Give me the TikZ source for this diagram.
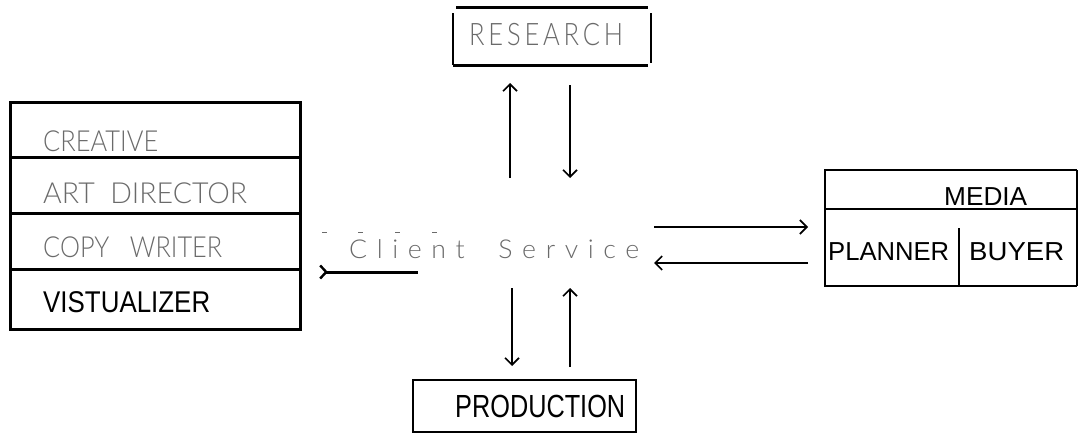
\documentclass[tikz,border=0pt]{standalone}
\usepackage{fontspec}
\usepackage{graphicx}
\setmainfont{Liberation Sans}
\newfontfamily\thinface{Lato Light}
\usetikzlibrary{arrows.meta,calc}
\newcommand{\fitw}[2]{\resizebox{#1}{\height}{#2}}
\definecolor{inkgray}{HTML}{6A6A6A}
\begin{document}
\begin{tikzpicture}[x=1pt,y=-1pt,
  txt/.style={inner sep=0pt, anchor=base west},
  soft/.style={text=inkgray},
  heavy/.style={line width=3pt},
  mid/.style={line width=2pt},
  fine/.style={line width=1.2pt},
  flow/.style={line width=1.3pt, -{Straight Barb[length=7pt,width=14pt,line width=1.6pt]}},
  holder/.style={inner sep=0pt, outer sep=0pt},
]
\useasboundingbox (0,0) rectangle (1080,442);

% ---------- Research ----------
\node[holder, minimum width=198pt, minimum height=58pt] (research) at (552,36) {};
\node[txt,soft] (researchlbl) at (469,45)
  {\thinface\fontsize{31}{36}\selectfont\addfontfeature{LetterSpace=15}\fitw{154pt}{RESEARCH}};
\draw[heavy] ($(research.north west)+(3,0)$) -- ($(research.north east)+(-3,0)$);
\draw[mid] ($(research.north west)+(0,6)$) -- (research.south west);
\draw[heavy] (research.south west) -- ($(research.south east)+(-3,0)$);
\draw[fine] ($(research.north east)+(0,6)$) -- ($(research.south east)+(0,-2)$);

% ---------- Creative stack ----------
\node[holder, draw, heavy, minimum width=290pt, minimum height=227pt] (stack) at (155,215.5) {};
\draw[heavy] ($(stack.north west)+(0,55)$) -- ($(stack.north east)+(0,55)$);
\draw[heavy] ($(stack.north west)+(0,111)$) -- ($(stack.north east)+(0,111)$);
\draw[heavy] ($(stack.north west)+(0,167)$) -- ($(stack.north east)+(0,167)$);
\node[txt,soft] (creative) at (43,151)
  {\thinface\fontsize{29}{34}\selectfont\fitw{115pt}{CREATIVE}};
\node[txt,soft] (artdir) at (43,203)
  {\thinface\fontsize{29}{34}\selectfont\fitw{204pt}{ART\ \ DIRECTOR}};
\node[txt,soft] (copyw) at (43,257)
  {\thinface\fontsize{29}{34}\selectfont\fitw{179pt}{COPY\ \ \ WRITER}};
\node[txt] (visual) at (43,312)
  {\fontsize{30}{34}\selectfont\fitw{167pt}{VISTUALIZER}};

% ---------- Client service ----------
\node[txt,soft] (client) at (349,258)
  {\thinface\fontsize{26}{30}\selectfont\addfontfeature{LetterSpace=36}\fitw{290pt}{Client\ \ Service}};
\foreach \dx in {-27,9,46,83}
  \draw[inkgray, line width=1pt] ($(client.base west)+(\dx,-26)$) -- +(5,0);

% creative link
\coordinate (creativein) at (418,272);
\draw[line width=3pt, {Straight Barb[reversed,length=6pt,width=13pt,line width=2.4pt]}-]
  ($(stack.east |- creativein)+(19,0)$) -- (creativein);

% research links
\coordinate (rup) at (510,178);
\coordinate (rdown) at (570,178);
\draw[flow] (rup) -- ($(rup |- research.south)+(0,18)$);
\draw[flow] ($(rdown |- research.south)+(0,20)$) -- (rdown);
\draw[line width=2.4pt] ($(rdown |- research.south)+(0,20)$) -- ($(rdown |- research.south)+(0,56)$);

% ---------- Media ----------
\node[holder, minimum width=252pt, minimum height=116pt] (mediabox) at (951,228) {};
\draw[fine] (mediabox.north east) -- (mediabox.north west) -- (mediabox.south west) -- (mediabox.south east);
\draw[mid] (mediabox.north east) -- (mediabox.south east);
\draw[fine] ($(mediabox.north west)+(0,39)$) -- ($(mediabox.north west)+(120,39)$);
\draw[mid] ($(mediabox.north west)+(120,39)$) -- ($(mediabox.north east)+(0,39)$);
\draw[fine] ($(mediabox.south west)+(134,0)$) -- ($(mediabox.south west)+(134,-58)$);
\node[txt] (media) at (944,205)
  {\fontsize{26}{30}\selectfont\fitw{83pt}{MEDIA}};
\node[txt] (planner) at (828,260)
  {\fontsize{26}{30}\selectfont\fitw{121pt}{PLANNER}};
\node[txt] (buyer) at (969,260)
  {\fontsize{26}{30}\selectfont\fitw{95pt}{BUYER}};

% media links
\coordinate (mout) at (654,227);
\coordinate (min) at (654,263);
\draw[flow] (mout) -- ($(mout -| mediabox.west)+(-17,0)$);
\draw[line width=2.6pt] (mout) -- +(103,0);
\draw[flow] ($(min -| mediabox.west)+(-17,0)$) -- (min);

% ---------- Production ----------
\node[holder, draw, fine, minimum width=223pt, minimum height=52pt] (production) at (524.5,406) {};
\node[txt] (productionlbl) at (455,417)
  {\fontsize{32}{36}\selectfont\fitw{170pt}{PRODUCTION}};

% production links
\coordinate (pdown) at (512,288);
\coordinate (pup) at (570,288);
\draw[flow] (pdown) -- ($(pdown |- production.north)+(0,-14)$);
\draw[flow] ($(pup |- production.north)+(0,-13)$) -- (pup);

\end{tikzpicture}
\end{document}
